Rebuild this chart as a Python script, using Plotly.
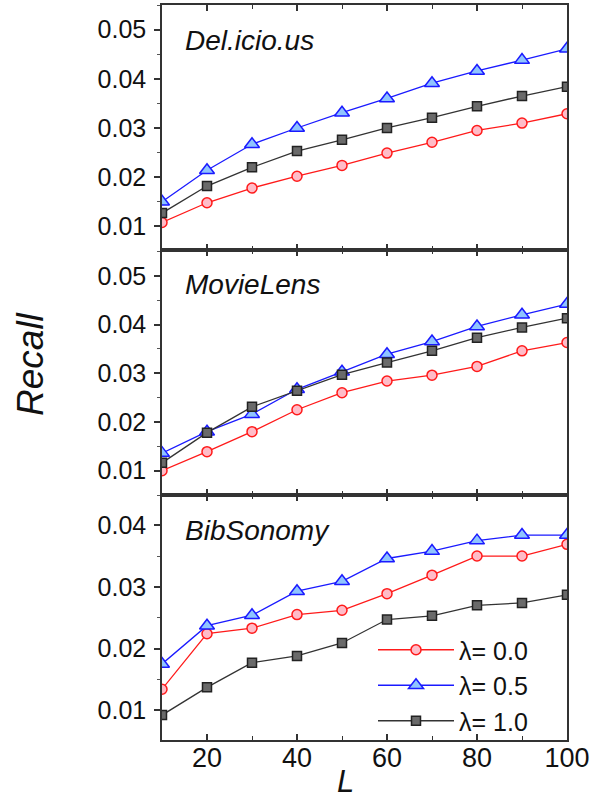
import plotly.graph_objects as go

L = [10, 20, 30, 40, 50, 60, 70, 80, 90, 100]

# Del.icio.us
del_l00 = [0.0108, 0.0148, 0.0178, 0.0202, 0.0224, 0.0249, 0.0271, 0.0295, 0.0310, 0.0329]
del_l05 = [0.0150, 0.0214, 0.0267, 0.0300, 0.0331, 0.0360, 0.0391, 0.0416, 0.0438, 0.0461]
del_l10 = [0.0127, 0.0182, 0.0220, 0.0253, 0.0276, 0.0300, 0.0321, 0.0344, 0.0365, 0.0384]

# MovieLens
mov_l00 = [0.0100, 0.0139, 0.0180, 0.0225, 0.0260, 0.0284, 0.0296, 0.0314, 0.0346, 0.0363]
mov_l05 = [0.0136, 0.0180, 0.0216, 0.0267, 0.0303, 0.0339, 0.0365, 0.0396, 0.0420, 0.0442]
mov_l10 = [0.0116, 0.0178, 0.0231, 0.0264, 0.0297, 0.0322, 0.0346, 0.0373, 0.0394, 0.0413]

# BibSonomy
bib_l00 = [0.0134, 0.0224, 0.0233, 0.0255, 0.0262, 0.0289, 0.0319, 0.0350, 0.0350, 0.0369]
bib_l05 = [0.0175, 0.0237, 0.0254, 0.0293, 0.0309, 0.0346, 0.0358, 0.0375, 0.0384, 0.0384]
bib_l10 = [0.0092, 0.0137, 0.0177, 0.0188, 0.0209, 0.0247, 0.0253, 0.0270, 0.0274, 0.0287]

panel_names = ["Del.icio.us", "MovieLens", "BibSonomy"]
series_names = ["λ= 0.0", "λ= 0.5", "λ= 1.0"]
panels = [
    [del_l00, del_l05, del_l10],
    [mov_l00, mov_l05, mov_l10],
    [bib_l00, bib_l05, bib_l10],
]
y_ranges = [[0.0052, 0.0550], [0.0050, 0.0553], [0.00516, 0.0449]]
y_ticks = [[0.01, 0.02, 0.03, 0.04, 0.05], [0.01, 0.02, 0.03, 0.04, 0.05], [0.01, 0.02, 0.03, 0.04]]
x_ticks = [20, 40, 60, 80, 100]

W, H = 599, 800
line_colors = ["#ff1a1a", "#1a1aff", "#333333"]
fill_colors = ["#ffbcc8", "#8fc4ff", "#6a6a6a"]
symbols = ["circle", "triangle-up", "square"]
sizes = [10, 13, 9]

x0, x1 = 162 / W, 567 / W
bounds = [(5, 250), (250, 495), (495, 740)]

fig = go.Figure()
font = "Liberation Sans, Arial, sans-serif"

for p, (top, bot) in enumerate(bounds):
    xa = "x" if p == 0 else f"x{p+1}"
    ya = "y" if p == 0 else f"y{p+1}"
    for s in range(3):
        fig.add_trace(go.Scatter(
            x=L, y=panels[p][s], mode="lines+markers", name=series_names[s],
            xaxis=xa, yaxis=ya, showlegend=(p == 2),
            line=dict(color=line_colors[s], width=1.3),
            marker=dict(symbol=symbols[s], size=sizes[s], color=fill_colors[s],
                        line=dict(color=line_colors[s] if s < 2 else "#222222", width=1.5)),
        ))
    dom = [1 - bot / H, 1 - top / H]
    xkey = "xaxis" if p == 0 else f"xaxis{p+1}"
    ykey = "yaxis" if p == 0 else f"yaxis{p+1}"
    rkey = f"yaxis{p+4}"
    fig.update_layout(**{
        xkey: dict(domain=[x0, x1], anchor=ya, range=[10, 100], tickvals=x_ticks,
                   ticks="inside", ticklen=6, tickwidth=1.5, mirror="ticks",
                   showline=True, linecolor="#333333", linewidth=1.5,
                   showgrid=False, zeroline=False, automargin=False,
                   showticklabels=(p == 2), ticklabelstandoff=-7,
                   tickfont=dict(family=font, size=27, color="#111111"),
                   minor=dict(dtick=10, tick0=10, ticks="inside", ticklen=4, tickwidth=1.2,
                              tickcolor="#333333"),
                   tickcolor="#333333"),
        ykey: dict(domain=dom, anchor=xa, range=y_ranges[p], tickvals=y_ticks[p],
                   tickformat=".2f", ticks="outside", ticklen=6, tickwidth=1.5,
                   showline=True, linecolor="#333333", linewidth=1.5, mirror=True,
                   showgrid=False, zeroline=False, automargin=False,
                   ticklabelstandoff=3,
                   tickfont=dict(family=font, size=25, color="#111111"),
                   minor=dict(dtick=0.005, tick0=0.005, ticks="outside", ticklen=3, tickwidth=1.2,
                              tickcolor="#555555"),
                   tickcolor="#333333"),
        rkey: dict(domain=dom, anchor=xa, overlaying=ya, side="right", range=y_ranges[p],
                   tickvals=y_ticks[p], ticks="inside", ticklen=6, tickwidth=1.5,
                   showticklabels=False, showgrid=False, zeroline=False, showline=False,
                   automargin=False,
                   minor=dict(dtick=0.005, tick0=0.005, ticks="inside", ticklen=3, tickwidth=1.2,
                              tickcolor="#555555"),
                   tickcolor="#333333"),
    })
    fig.add_annotation(text=f"<i>{panel_names[p]}</i>", xref="paper", yref="paper",
                       x=183 / W, y=1 - (top + 35) / H, xanchor="left", yanchor="middle",
                       showarrow=False, font=dict(family=font, size=28, color="#111111"))

fig.add_annotation(text="<i>Recall</i>", xref="paper", yref="paper", x=30 / W, y=1 - 364 / H,
                   textangle=-90, showarrow=False, xanchor="center", yanchor="middle",
                   font=dict(family=font, size=37, color="#111111"))
fig.add_annotation(text="<i>L</i>", xref="paper", yref="paper", x=345 / W, y=1 - 781 / H,
                   showarrow=False, xanchor="center", yanchor="middle",
                   font=dict(family=font, size=31, color="#111111"))

fig.update_layout(
    width=W, height=H, margin=dict(l=0, r=0, t=0, b=0, pad=0), autosize=False,
    paper_bgcolor="white", plot_bgcolor="white",
    legend=dict(x=373 / W, y=1 - 627 / H, xanchor="left", yanchor="top",
                bgcolor="rgba(0,0,0,0)", font=dict(family=font, size=25, color="#111111"),
                tracegroupgap=0, itemwidth=76),
)

fig.write_html(
    "out.html",
    config={"displayModeBar": False},
    post_script="document.body.style.margin='0';document.body.style.overflow='hidden';",
)
